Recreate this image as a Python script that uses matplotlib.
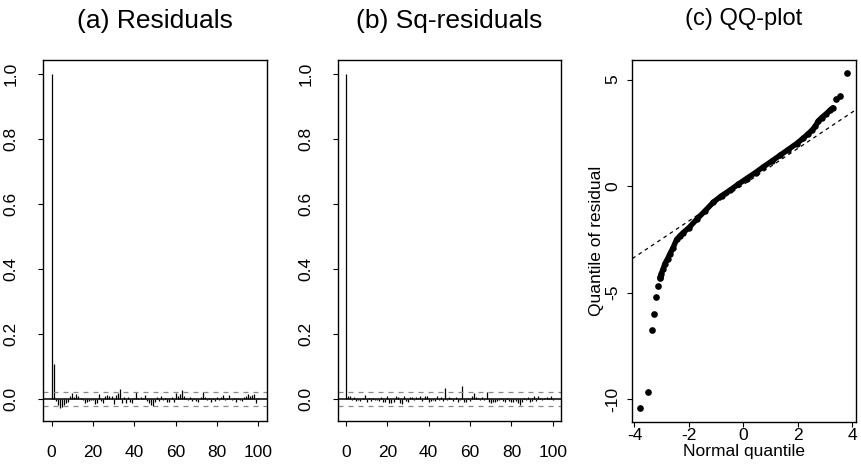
import numpy as np
import matplotlib
matplotlib.use("Agg")
import matplotlib.pyplot as plt

plt.rcParams['font.family'] = ['Liberation Sans', 'DejaVu Sans']
plt.rcParams['axes.unicode_minus'] = False

# ---------------- data ----------------
lags = list(range(0, 101))

acf_resid = [1.0, 0.108, -0.006, -0.02, -0.028, -0.025, -0.018, -0.012, -0.01, 0.008,
             0.018, 0.006, 0.015, 0.008, 0.004, -0.002, -0.012, -0.008, -0.005, -0.003,
             -0.004, -0.015, -0.012, 0.015, -0.006, -0.014, 0.01, 0.012, 0.008, 0.01,
             -0.015, 0.012, 0.018, 0.03, -0.014, 0.005, -0.012, 0.006, -0.01, -0.014,
             0.004, 0.022, 0.003, 0.005, 0.002, 0.012, -0.005, -0.012, -0.018, -0.022,
             -0.01, 0.006, -0.006, 0.008, -0.004, 0.004, -0.01, -0.008, 0.005, -0.01,
             0.018, 0.008, 0.015, 0.026, 0.01, 0.004, -0.004, 0.006, -0.006, 0.004,
             -0.006, -0.01, 0.005, 0.02, 0.006, -0.004, 0.004, -0.008, 0.003, -0.006,
             0.005, -0.004, 0.006, 0.012, -0.003, 0.004, 0.012, -0.004, 0.003, -0.01,
             0.004, -0.004, -0.006, 0.005, 0.008, 0.014, 0.01, 0.012, 0.016, -0.012,
             0.003]

acf_sq = [1.0, 0.01, 0.008, -0.004, 0.006, -0.005, -0.003, -0.006, 0.004, 0.012,
          -0.008, 0.004, -0.006, 0.003, -0.004, -0.002, -0.006, 0.005, -0.008, -0.01,
          0.008, -0.012, -0.014, -0.01, 0.009, 0.006, -0.014, -0.016, 0.008, -0.005,
          -0.01, 0.005, 0.007, -0.004, 0.006, 0.004, 0.01, -0.006, 0.01, 0.008,
          -0.008, -0.006, -0.004, -0.007, 0.01, -0.004, 0.005, -0.006, 0.034, -0.003,
          0.006, 0.004, -0.006, 0.005, -0.008, -0.004, 0.039, -0.008, -0.01, 0.004,
          -0.006, 0.008, 0.018, 0.006, 0.002, -0.004, 0.005, -0.003, 0.02, -0.01,
          -0.012, -0.008, -0.01, -0.006, -0.004, 0.003, -0.006, -0.008, 0.004, -0.006,
          -0.01, -0.008, -0.006, -0.012, -0.018, -0.01, 0.004, -0.004, 0.006, -0.008,
          -0.006, 0.01, -0.006, 0.008, 0.004, -0.004, 0.003, 0.006, 0.004, 0.01,
          -0.002]

conf_limit = 0.022

# QQ plot: isolated tail points
qq_tail_x = [-3.80, -3.50, -3.37, -3.28, -3.21, -3.15, -3.08, -3.05, 3.41, 3.54, 3.80]
qq_tail_y = [-10.40, -9.68, -6.75, -5.98, -5.22, -4.69, -4.30, -4.25, 4.11, 4.23, 5.32]
# QQ plot: dense body (points merge into a band)
qq_body_x = [-3.02, -2.95, -2.88, -2.78, -2.69, -2.58, -2.45, -2.33, -2.21, -2.0, -1.71,
             -1.4, -1.10, -0.8, -0.49, -0.2, 0.12, 0.45, 0.74, 1.05, 1.35, 1.65, 1.96,
             2.2, 2.39, 2.52, 2.64, 2.75, 2.88, 3.05, 3.2, 3.29]
qq_body_y = [-4.12, -3.90, -3.63, -3.40, -3.16, -2.88, -2.50, -2.33, -2.18, -1.95, -1.55,
             -1.15, -0.75, -0.45, -0.19, 0.08, 0.36, 0.64, 0.91, 1.18, 1.45, 1.72, 2.00,
             2.25, 2.47, 2.62, 2.80, 3.05, 3.22, 3.40, 3.58, 3.68]
qq_line_intercept = 0.07
qq_line_slope = 0.85

titles = ["(a) Residuals", "(b) Sq-residuals", "(c) QQ-plot"]

# ---------------- figure ----------------
W, H = 861, 468
fig = plt.figure(figsize=(W / 100, H / 100), dpi=100)

def ax_px(l, r, t, b):
    return fig.add_axes([l / W, 1 - b / H, (r - l) / W, (b - t) / H])

ax1 = ax_px(43.3, 266.7, 60, 421)
ax2 = ax_px(337.7, 561, 60, 421)
ax3 = ax_px(632.3, 855.7, 60, 421.7)

tick_fs = 12.5

for ax, acf, title in [(ax1, acf_resid, titles[0]), (ax2, acf_sq, titles[1])]:
    ax.vlines(lags, 0, acf, colors='black', linewidth=0.9)
    ax.axhline(0, color='black', linewidth=1.1)
    ax.axhline(conf_limit, color='#8a8a8a', linewidth=0.9, linestyle=(0, (4, 4)))
    ax.axhline(-conf_limit, color='#8a8a8a', linewidth=0.9, linestyle=(0, (4, 4)))
    ax.set_xlim(-4, 104)
    ax.set_ylim(-0.068, 1.043)
    ax.set_xticks([0, 20, 40, 60, 80, 100])
    ax.set_yticks([0.0, 0.2, 0.4, 0.6, 0.8, 1.0])
    ax.set_yticklabels(['0.0', '0.2', '0.4', '0.6', '0.8', '1.0'])
    ax.tick_params(axis='x', length=3.6, width=0.8, pad=14, labelsize=tick_fs)
    ax.tick_params(axis='y', length=3.6, width=0.8, pad=14, labelsize=tick_fs,
                   labelrotation=90)
    for lab in ax.get_yticklabels():
        lab.set_va('center')
    ax.set_title(title, fontsize=19, pad=23)

ax3.plot(qq_body_x, qq_body_y, color='black', linewidth=3.9,
         solid_capstyle='round', solid_joinstyle='round')
ax3.plot(qq_body_x, qq_body_y, 'o', color='black', markersize=3.6)
ax3.plot(qq_tail_x, qq_tail_y, 'o', color='black', markersize=3.8)
ax3.axline((0, qq_line_intercept), slope=qq_line_slope, color='black',
           linewidth=0.9, linestyle=(0, (3, 3)))
ax3.set_xlim(-4.08, 4.13)
ax3.set_ylim(-11.05, 5.92)
ax3.set_xticks([-4, -2, 0, 2, 4])
ax3.set_yticks([-10, -5, 0, 5])
ax3.tick_params(axis='x', length=3.6, width=0.8, pad=1, labelsize=tick_fs)
ax3.tick_params(axis='y', length=3.6, width=0.8, pad=5, labelsize=tick_fs,
                labelrotation=90)
for lab in ax3.get_yticklabels():
    lab.set_va('center')
ax3.set_xlabel("Normal quantile", fontsize=12.5)
ax3.xaxis.set_label_coords(0.5, -0.062)
ax3.set_ylabel("Quantile of residual", fontsize=12.5)
ax3.yaxis.set_label_coords(-0.128, 0.5)
ax3.set_title(titles[2], fontsize=17, pad=25)

for ax in (ax1, ax2, ax3):
    for s in ax.spines.values():
        s.set_linewidth(1.0)
        s.set_color('black')

fig.savefig("out.png", dpi=100)
